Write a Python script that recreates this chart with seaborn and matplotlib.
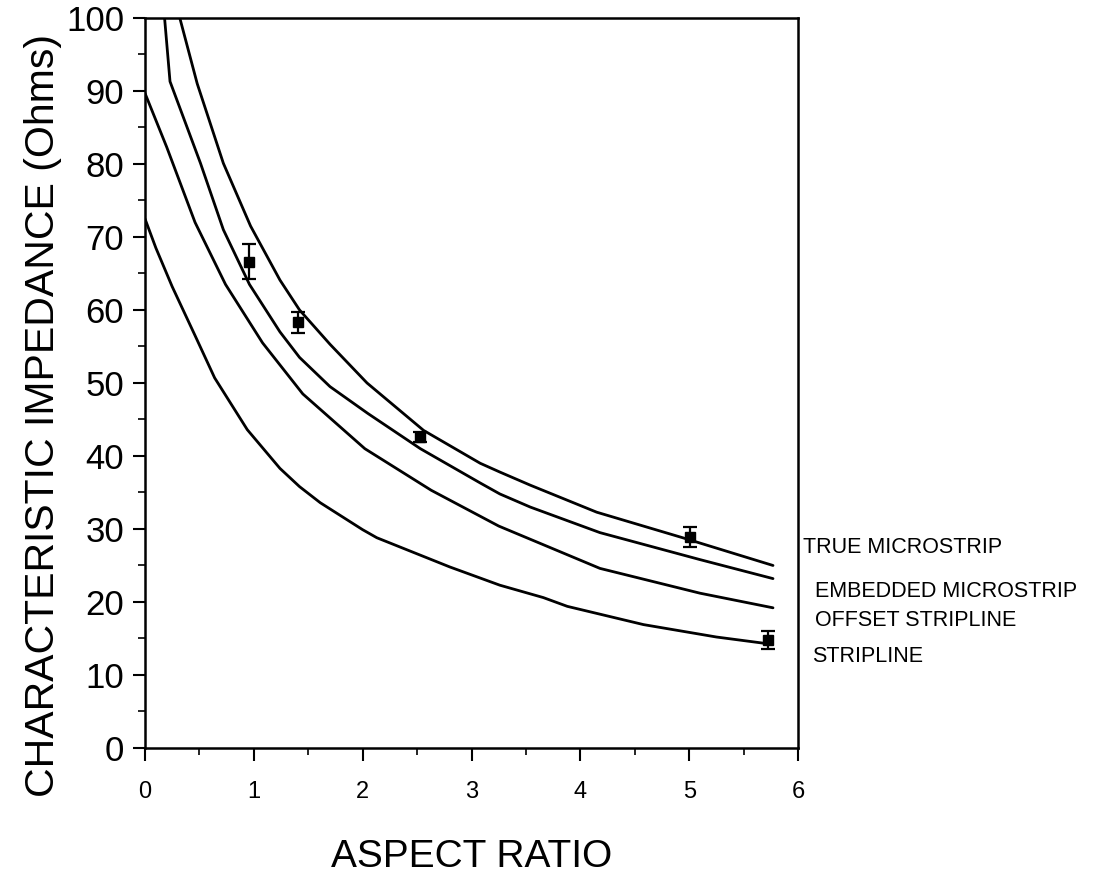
import numpy as np
import pandas as pd
import matplotlib
matplotlib.use("Agg")
import matplotlib.pyplot as plt
import seaborn as sns
from matplotlib.ticker import MultipleLocator

# curves (aspect ratio -> impedance in ohms)
true_ms_x = [0.32, 0.48, 0.72, 0.97, 1.24, 1.42, 1.70, 2.04, 2.56, 3.08, 3.26, 3.54, 4.15, 4.94, 5.77]
true_ms_y = [100, 91.0, 80.1, 71.5, 64.1, 60.0, 55.3, 50.0, 43.5, 39.0, 37.8, 36.0, 32.3, 28.8, 25.0]

embed_ms_x = [0.18, 0.23, 0.51, 0.72, 0.96, 1.24, 1.42, 1.70, 2.05, 2.53, 3.08, 3.26, 3.54, 4.18, 5.10, 5.77]
embed_ms_y = [100, 91.3, 80.1, 71.0, 63.5, 57.0, 53.5, 49.5, 45.8, 41.0, 36.3, 34.8, 33.0, 29.5, 25.8, 23.2]

offset_sl_x = [0.0, 0.20, 0.46, 0.74, 1.08, 1.45, 2.02, 2.63, 3.25, 4.18, 5.10, 5.77]
offset_sl_y = [89.7, 82.3, 72.0, 63.5, 55.5, 48.5, 41.0, 35.3, 30.4, 24.6, 21.2, 19.2]

strip_x = [0.0, 0.10, 0.25, 0.46, 0.64, 0.94, 1.24, 1.42, 1.61, 2.00, 2.13, 2.80, 3.26, 3.66, 3.88, 4.58, 5.25, 5.71]
strip_y = [72.5, 68.5, 63.2, 56.5, 50.7, 43.6, 38.3, 35.8, 33.6, 29.9, 28.8, 24.8, 22.3, 20.6, 19.4, 16.9, 15.2, 14.3]

# measured points with error bars
meas_x = [0.96, 1.41, 2.53, 5.01, 5.72]
meas_y = [66.6, 58.3, 42.6, 28.9, 14.8]
meas_err = [2.4, 1.4, 0.7, 1.4, 1.2]

curve_names = ["TRUE MICROSTRIP", "EMBEDDED MICROSTRIP", "OFFSET STRIPLINE", "STRIPLINE"]
label_y = [27.4, 21.4, 17.5, 12.5]
label_x = [6.05, 6.16, 6.16, 6.13]

frames = []
for name, xs, ys in zip(curve_names,
                        [true_ms_x, embed_ms_x, offset_sl_x, strip_x],
                        [true_ms_y, embed_ms_y, offset_sl_y, strip_y]):
    frames.append(pd.DataFrame({"aspect": xs, "z0": ys, "line": name}))
df = pd.concat(frames, ignore_index=True)

sns.set_theme(style="ticks")
plt.rcParams["font.family"] = ["Liberation Sans", "DejaVu Sans"]
plt.rcParams["text.color"] = "black"
plt.rcParams["axes.labelcolor"] = "black"

fig = plt.figure(figsize=(10.95, 8.81), dpi=100)
ax = fig.add_axes([0.1324, 0.151, 0.5964, 0.8286])

sns.lineplot(data=df, x="aspect", y="z0", units="line", estimator=None,
             sort=False, color="black", lw=2.0, ax=ax, legend=False)

ax.errorbar(meas_x, meas_y, yerr=meas_err, fmt="s", color="black",
            ms=7, capsize=5, elinewidth=1.6, capthick=1.6)

for name, lx, ly in zip(curve_names, label_x, label_y):
    ax.text(lx, ly, name, fontsize=15.5, va="center", ha="left", clip_on=False)

ax.set_xlim(0, 6)
ax.set_ylim(0, 100)
ax.xaxis.set_major_locator(MultipleLocator(1))
ax.xaxis.set_minor_locator(MultipleLocator(0.5))
ax.yaxis.set_major_locator(MultipleLocator(10))
ax.yaxis.set_minor_locator(MultipleLocator(5))

ax.tick_params(axis="y", which="major", direction="out", length=9, width=1.5,
               labelsize=25, pad=6, colors="black")
ax.tick_params(axis="y", which="minor", direction="out", length=5, width=1.2, colors="black")
ax.tick_params(axis="x", which="major", direction="out", length=9, width=1.5,
               labelsize=17, pad=15, colors="black")
ax.tick_params(axis="x", which="minor", direction="out", length=5, width=1.2, colors="black")

for side in ["left", "bottom", "top", "right"]:
    ax.spines[side].set_visible(True)
    ax.spines[side].set_color("black")
    ax.spines[side].set_linewidth(1.8)

ax.set_xlabel("ASPECT RATIO", fontsize=28, labelpad=26)
ax.set_ylabel("CHARACTERISTIC IMPEDANCE (Ohms)", fontsize=29.5)
ax.yaxis.set_label_coords(-0.127, 0.456)

fig.savefig("out.png", dpi=100, facecolor="white")
